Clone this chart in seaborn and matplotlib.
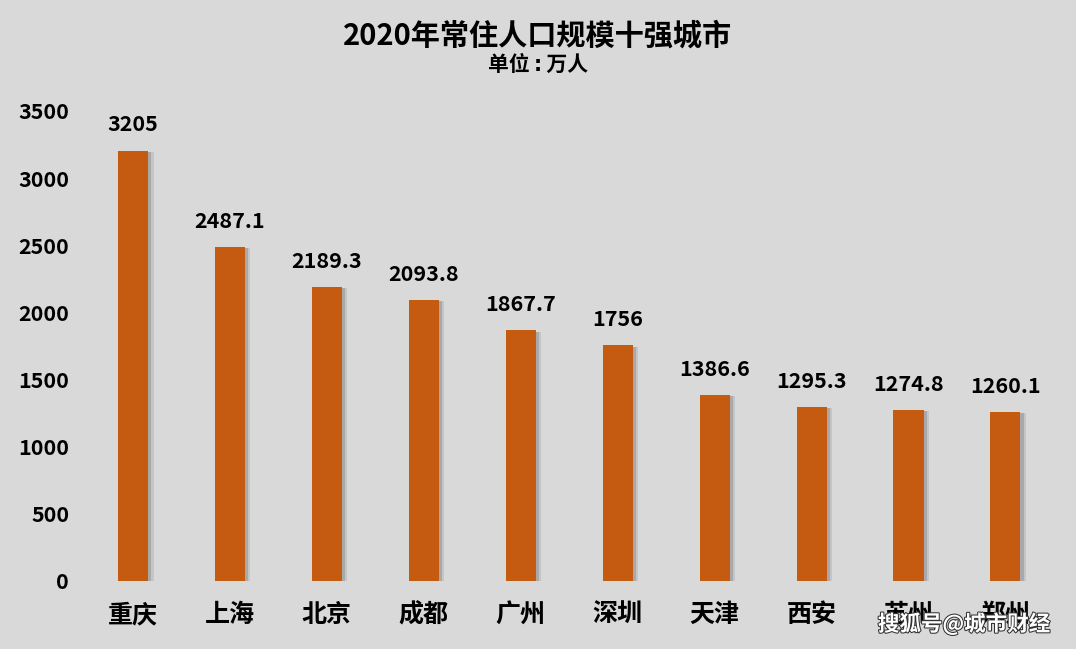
import matplotlib
matplotlib.use("Agg")
import matplotlib.pyplot as plt
import matplotlib.patheffects as pe
import seaborn as sns
import pandas as pd

cities = ["重庆", "上海", "北京", "成都", "广州", "深圳", "天津", "西安", "苏州", "郑州"]
population = [3205, 2487.1, 2189.3, 2093.8, 1867.7, 1756, 1386.6, 1295.3, 1274.8, 1260.1]
value_labels = ["3205", "2487.1", "2189.3", "2093.8", "1867.7", "1756", "1386.6", "1295.3", "1274.8", "1260.1"]
y_ticks = [0, 500, 1000, 1500, 2000, 2500, 3000, 3500]

BG = "#d9d9d9"
BAR = "#c55a11"

sns.set_theme(style="white")
plt.rcParams["font.family"] = ["Noto Sans CJK SC", "DejaVu Sans"]

fig = plt.figure(figsize=(10.76, 6.49), dpi=100, facecolor=BG)
ax = fig.add_axes([0.0785, 0.1048, 0.901, 0.7242])
ax.set_facecolor(BG)

df = pd.DataFrame({"city": cities, "pop": population})
sns.barplot(data=df, x="city", y="pop", color=BAR, width=0.31, ax=ax,
            saturation=1, edgecolor="none")

for p in ax.patches:
    p.set_path_effects([pe.SimplePatchShadow(offset=(2.5, -1), shadow_rgbFace="#808080", alpha=0.45),
                        pe.SimplePatchShadow(offset=(4, -1), shadow_rgbFace="#9a9a9a", alpha=0.3),
                        pe.Normal()])

for i, (v, lab) in enumerate(zip(population, value_labels)):
    ax.annotate(lab, (i, v), xytext=(0, 18.5), textcoords="offset points",
                ha="center", va="center", fontsize=15.5, fontweight="bold", color="black")

ax.set_xlim(-0.5, 9.5)
ax.set_ylim(0, 3500)
ax.set_yticks(y_ticks)
ax.set_yticklabels([str(t) for t in y_ticks])
ax.set_xlabel("")
ax.set_ylabel("")
for s in ax.spines.values():
    s.set_visible(False)
ax.tick_params(axis="y", length=0, pad=11, labelsize=15.5, labelcolor="black")
ax.tick_params(axis="x", length=0, pad=16, labelsize=18, labelcolor="black")
for t in ax.get_yticklabels():
    t.set_fontweight("bold")
for t in ax.get_xticklabels():
    t.set_fontweight("bold")

fig.text(0.5, 1 - 36 / 649, "2020年常住人口规模十强城市", ha="center", va="center",
         fontsize=21, fontweight="bold", color="black")
fig.text(0.5, 1 - 65 / 649, "单位\u2009:\u2009万人", ha="center", va="center",
         fontsize=15, fontweight="bold", color="black",
         family=["DejaVu Sans", "Noto Sans CJK SC"])

fig.text(1050 / 1076, 1 - 624 / 649, "搜狐号@城市财经", ha="right", va="center",
         fontsize=15.5, color="white", fontweight="bold",
         path_effects=[pe.withStroke(linewidth=1.5, foreground="#333333")])

fig.savefig("out.png", dpi=100, facecolor=BG)
